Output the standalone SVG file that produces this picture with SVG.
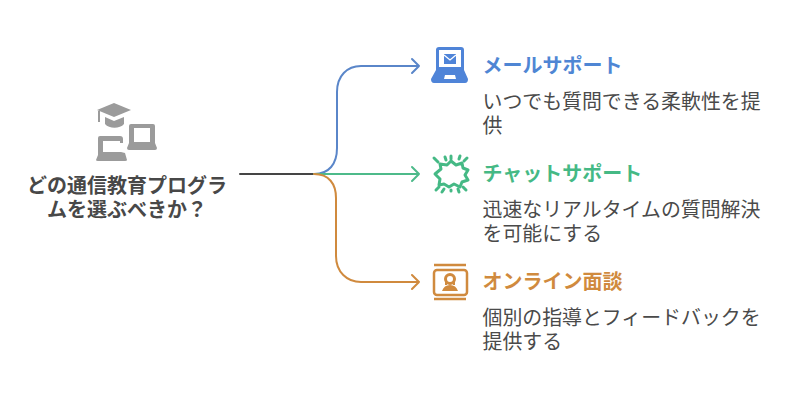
<svg xmlns="http://www.w3.org/2000/svg" width="792" height="402" viewBox="0 0 792 402">
<style>
text{font-family:"Noto Sans CJK JP","Noto Sans JP",sans-serif}
.t{font-size:20px;font-weight:700}
.d{font-size:19.900px;fill:#4a4a4a}
.m{font-size:20px;font-weight:700;fill:#484848;text-anchor:middle}
.c{fill:none;stroke-width:2;stroke-linecap:round;stroke-linejoin:round}
</style>
<rect width="792" height="402" fill="#fff"/>
<g id="connectors">
<path class="c" d="M240 174H314" stroke="#454545"/>
<path class="c" d="M314 174C329 174 337 164 337 148V92C337 76 347 66 361 66H419M412 59L419 66L412 73" stroke="#5a86c9"/>
<path class="c" d="M314 174H419M412 167L419 174L412 181" stroke="#4dba8a"/>
<path class="c" d="M314 174C329 174 336 184 336 198V256C336 272 347 282 361 282H419M412 275L419 282L412 289" stroke="#d08a3e"/>
</g>
<g id="center">
<g fill="#9b9b9b">
<path d="M114 103L131 110L114 117L97 110Z"/>
<path d="M105 117L114 121L124 117V124C120 129 109 129 105 124Z"/>
<rect x="98" y="111" width="2" height="11"/>
<path fill-rule="evenodd" d="M131 124H153Q155 124 155 126V143L157 148Q157 150 155 150H129Q127 150 127 148L129 143V126Q129 124 131 124ZM134 128V142H150V128Z"/>
<path d="M100 136H120Q123 136 123 139V143H120V141H103V152H121L125 153L127 160Q127 161 125 161H98Q96 161 96 160L98 155V138Q98 136 100 136Z"/>
</g>
<text class="m" y="193"><tspan x="127">どの通信教育プログラ</tspan><tspan x="127" dy="24">ムを選ぶべきか？</tspan></text>
</g>
<g id="mail">
<path fill="#4f84d8" fill-rule="evenodd" d="M439 47H461Q464 47 464 50V70L468 79Q468 83 465 83H434Q431 83 431 79L436 70V50Q436 47 439 47ZM439 50V67H461V50ZM445 75L444 79H456L455 75Z"/>
<rect x="444" y="54" width="12" height="10" fill="#4f84d8"/>
<path d="M444 55L450 60L456 55" fill="none" stroke="#fff" stroke-width="1.300"/>
<text class="t" x="482.500" y="73" fill="#4f86d4">メールサポート</text>
<text class="d" y="109"><tspan x="482.500">いつでも質問できる柔軟性を提</tspan><tspan x="482.500" dy="24">供</tspan></text>
</g>
<g id="chat">
<path fill="none" stroke="#45b985" stroke-width="3" stroke-linejoin="round" d="M435 174L441 169L440 164L447 165L451 161L456 165L462 163L463 168L468 170L465 175L468 180L462 182L460 187L454 184L449 187L444 184L439 185L440 179Z"/>
<path stroke="#45b985" stroke-width="3" stroke-linecap="round" d="M434 158L438 162M445 157L446 160M451 156V159M460 156L459 159M467 158L464 161M439 187L436 190M451 190V191M463 187L466 190M444 189L442 192M458 189L459 192"/>
<text class="t" x="482.500" y="181" fill="#45b985">チャットサポート</text>
<text class="d" y="217"><tspan x="482.500">迅速なリアルタイムの質問解決</tspan><tspan x="482.500" dy="24">を可能にする</tspan></text>
</g>
<g id="interview">
<path stroke="#d08a3e" stroke-width="2.500" d="M434 265H466M434 299H466"/>
<rect x="434" y="270" width="33" height="25" rx="3" fill="none" stroke="#d08a3e" stroke-width="2.500"/>
<circle cx="450" cy="279" r="4.500" fill="none" stroke="#d08a3e" stroke-width="3"/>
<path fill="#d08a3e" d="M445 279H447V285H445ZM453 279H455V285H453ZM442 291Q444 285 450 285Q456 285 458 291Z"/>
<text class="t" x="482.500" y="289" fill="#d08a3e">オンライン面談</text>
<text class="d" y="325"><tspan x="482.500">個別の指導とフィードバックを</tspan><tspan x="482.500" dy="24">提供する</tspan></text>
</g>
</svg>
